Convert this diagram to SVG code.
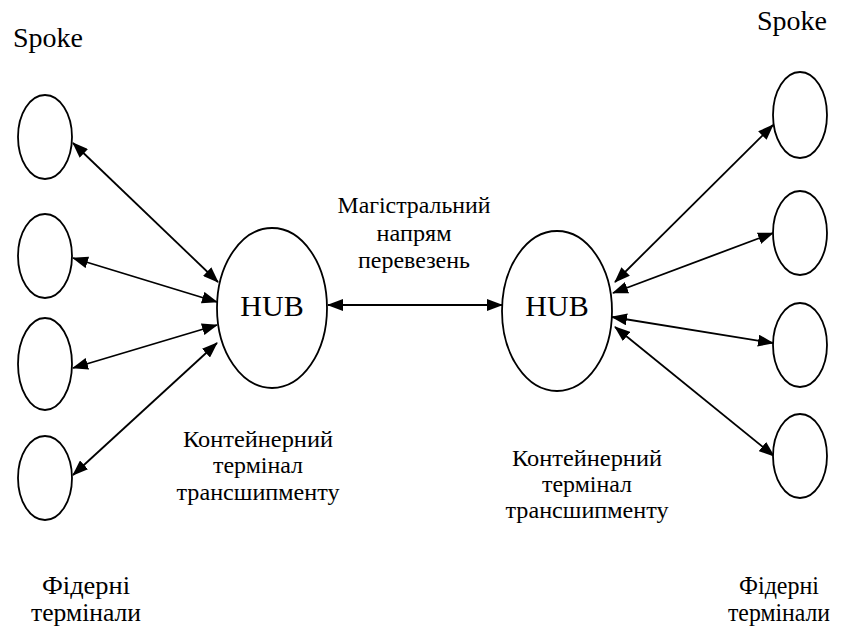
<svg xmlns="http://www.w3.org/2000/svg" width="843" height="631" viewBox="0 0 843 631">
<style>
.n{fill:#fff;stroke:#000;stroke-width:1.8}
.t{font-family:"Liberation Serif","Times New Roman",serif;fill:#000;text-anchor:middle}
.u{font-size:23px}
.f{font-size:25px}
.c{stroke:#000;stroke-width:1.8;fill:none;marker-start:url(#ah);marker-end:url(#ah)}
</style>
<defs>
<marker id="ah" viewBox="0 0 16 12" refX="15" refY="6" markerWidth="16" markerHeight="12" markerUnits="userSpaceOnUse" orient="auto-start-reverse">
<path d="M0,0 L16,6 L0,12 z" fill="#000"/>
</marker>
</defs>
<rect width="843" height="631" fill="#fff"/>
<g id="connectors">
<line class="c" x1="73" y1="143" x2="218" y2="282"/>
<line class="c" x1="73" y1="258" x2="217" y2="302"/>
<line class="c" x1="73" y1="368" x2="217" y2="325"/>
<line class="c" x1="73" y1="475" x2="217" y2="343"/>
<line class="c" x1="328" y1="305" x2="502" y2="305"/>
<line class="c" x1="615" y1="282" x2="773" y2="125"/>
<line class="c" x1="613" y1="293" x2="773" y2="233"/>
<line class="c" x1="612" y1="317" x2="773" y2="343"/>
<line class="c" x1="615" y1="327" x2="774" y2="456"/>
</g>
<g id="spoke-l1"><ellipse class="n" cx="45" cy="137" rx="27" ry="42"/></g>
<g id="spoke-l2"><ellipse class="n" cx="45" cy="256" rx="27" ry="42"/></g>
<g id="spoke-l3"><ellipse class="n" cx="45" cy="364" rx="27" ry="46"/></g>
<g id="spoke-l4"><ellipse class="n" cx="45" cy="478" rx="27" ry="42"/></g>
<g id="hub-left"><ellipse class="n" cx="272" cy="308" rx="55" ry="80"/><text class="t" x="272" y="316" font-size="30">HUB</text></g>
<g id="hub-right"><ellipse class="n" cx="557" cy="311" rx="55" ry="80"/><text class="t" x="557" y="316" font-size="30">HUB</text></g>
<g id="spoke-r1"><ellipse class="n" cx="800" cy="115" rx="27" ry="43"/></g>
<g id="spoke-r2"><ellipse class="n" cx="800" cy="233" rx="27" ry="42"/></g>
<g id="spoke-r3"><ellipse class="n" cx="800" cy="345" rx="27" ry="42"/></g>
<g id="spoke-r4"><ellipse class="n" cx="800" cy="456" rx="27" ry="42"/></g>
<g id="labels">
<text class="t" x="48" y="47" font-size="28">Spoke</text>
<text class="t" x="792" y="30" font-size="28">Spoke</text>
<text class="t u" x="414" y="213" textLength="153" lengthAdjust="spacingAndGlyphs">Магістральний</text>
<text class="t u" x="414" y="241" textLength="75" lengthAdjust="spacingAndGlyphs">напрям</text>
<text class="t u" x="414" y="268" textLength="112" lengthAdjust="spacingAndGlyphs">перевезень</text>
<text class="t u" x="258" y="447" textLength="150" lengthAdjust="spacingAndGlyphs">Контейнерний</text>
<text class="t u" x="258" y="473" textLength="90" lengthAdjust="spacingAndGlyphs">термінал</text>
<text class="t u" x="258" y="500" textLength="163" lengthAdjust="spacingAndGlyphs">трансшипменту</text>
<text class="t u" x="587" y="466" textLength="150" lengthAdjust="spacingAndGlyphs">Контейнерний</text>
<text class="t u" x="587" y="492" textLength="90" lengthAdjust="spacingAndGlyphs">термінал</text>
<text class="t u" x="587" y="518" textLength="163" lengthAdjust="spacingAndGlyphs">трансшипменту</text>
<text class="t f" x="86" y="594" textLength="88" lengthAdjust="spacingAndGlyphs">Фідерні</text>
<text class="t f" x="86" y="621" textLength="110" lengthAdjust="spacingAndGlyphs">термінали</text>
<text class="t f" x="779" y="594" textLength="80" lengthAdjust="spacingAndGlyphs">Фідерні</text>
<text class="t f" x="779" y="621" textLength="102" lengthAdjust="spacingAndGlyphs">термінали</text>
</g>
</svg>
